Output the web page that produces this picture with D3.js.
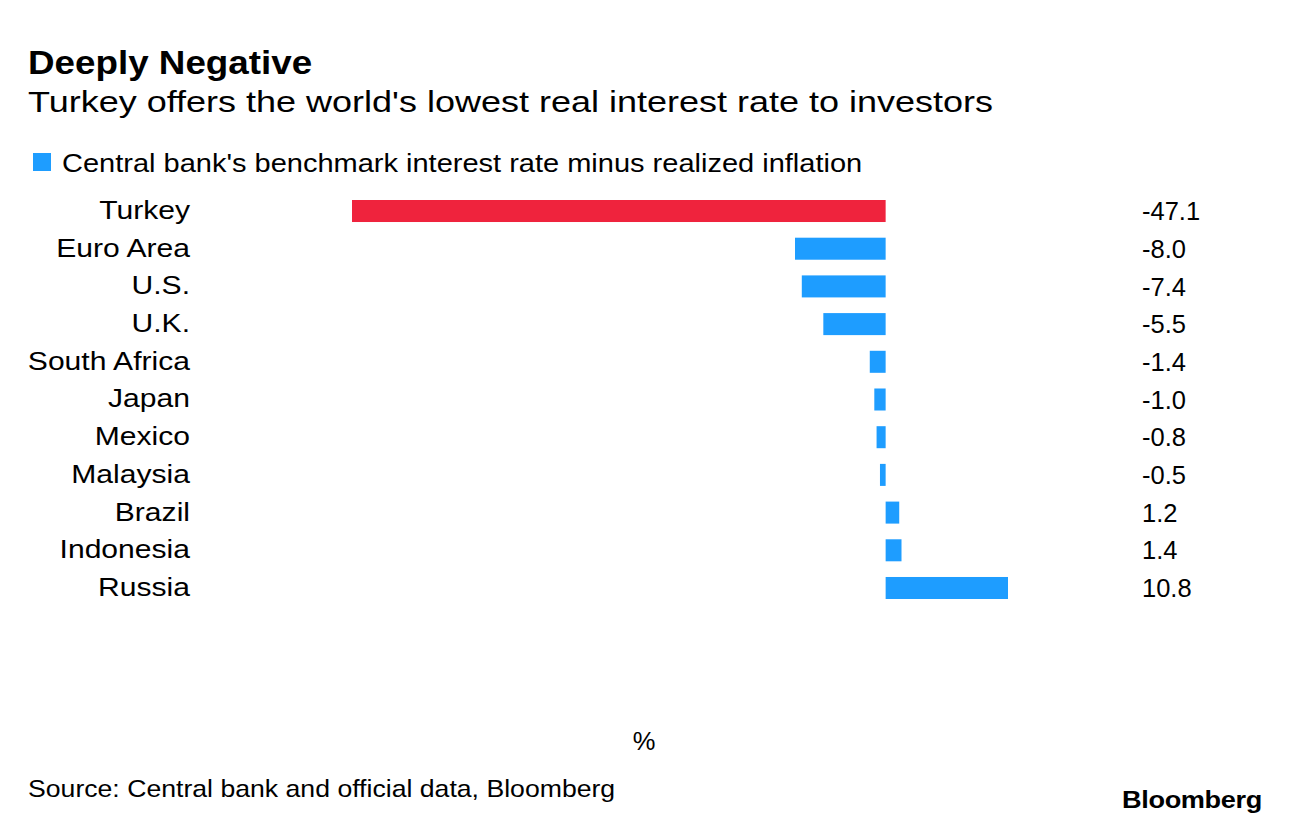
<!DOCTYPE html>
<meta charset="utf-8">
<head>
  <title>Deeply Negative</title>
</head>

<style>
body { margin: 0; background: #fff; }
text {
  font-family: "Liberation Sans", Arial, Helvetica, sans-serif;
  fill: #000;
}
.title { font-size: 33px; font-weight: bold; }
.subtitle { font-size: 30px; }
.legend, .label, .value, .unit { font-size: 25.5px; }
.source { font-size: 24px; }
.brand { font-size: 23px; font-weight: bold; letter-spacing: -0.3px; }
</style>

<body>
  <svg width="1289" height="828"></svg>

  <script src="https://cdnjs.cloudflare.com/ajax/libs/d3/7.8.5/d3.min.js"></script>
  <script>
var countries = ["Turkey", "Euro Area", "U.S.", "U.K.", "South Africa", "Japan",
                 "Mexico", "Malaysia", "Brazil", "Indonesia", "Russia"];
var realRates = [-47.1, -8.0, -7.4, -5.5, -1.4, -1.0, -0.8, -0.5, 1.2, 1.4, 10.8];
var highlight = "Turkey";

var blue = "#1e9dff";
var red = "#ef233d";

var svg = d3.select("svg");

var rows = countries.map(function(c, i) { return {name: c, value: realRates[i]}; });

var x = d3.scaleLinear()
  .domain([d3.min(realRates), d3.max(realRates)])
  .range([352, 1008]);

var y = d3.scaleBand()
  .domain(countries)
  .range([200, 599])
  .paddingInner(0.416)
  .paddingOuter(0);

// the original face is wider than Liberation Sans, so stretch text sideways
function stretched(cls, tx, ty, sx, str) {
  return svg.append("text")
    .attr("class", cls)
    .attr("transform", "translate(" + tx + "," + ty + ") scale(" + sx + ",1)")
    .text(str);
}

// titles
stretched("title", 28, 74, 1.115, "Deeply Negative");
stretched("subtitle", 28, 112, 1.2, "Turkey offers the world's lowest real interest rate to investors");

// legend
svg.append("rect").attr("x", 33).attr("y", 153).attr("width", 18).attr("height", 18).attr("fill", blue);
stretched("legend", 62, 172, 1.138, "Central bank's benchmark interest rate minus realized inflation");

// bars
svg.selectAll("rect.bar")
  .data(rows)
  .enter()
  .append("rect")
  .attr("class", "bar")
  .attr("x", function(d) { return x(Math.min(0, d.value)); })
  .attr("y", function(d) { return y(d.name); })
  .attr("width", function(d) { return Math.abs(x(d.value) - x(0)); })
  .attr("height", y.bandwidth())
  .attr("fill", function(d) { return d.name === highlight ? red : blue; });

// country labels
svg.selectAll("text.label")
  .data(rows)
  .enter()
  .append("text")
  .attr("class", "label")
  .attr("transform", function(d) {
    return "translate(190," + (y(d.name) + y.bandwidth() / 2) + ") scale(1.18,1)";
  })
  .attr("dy", "0.31em")
  .attr("text-anchor", "end")
  .text(function(d) { return d.name; });

// value labels
svg.selectAll("text.value")
  .data(rows)
  .enter()
  .append("text")
  .attr("class", "value")
  .attr("x", 1142)
  .attr("y", function(d) { return y(d.name) + y.bandwidth() / 2; })
  .attr("dy", "0.36em")
  .text(function(d) { return d.value.toFixed(1); });

// unit
svg.append("text").attr("class", "unit").attr("x", 644).attr("y", 750)
  .attr("text-anchor", "middle").text("%");

// footer
stretched("source", 28, 797, 1.11, "Source: Central bank and official data, Bloomberg");
stretched("brand", 1262, 808, 1.18, "Bloomberg").attr("text-anchor", "end");
  </script>
</body>
</html>
